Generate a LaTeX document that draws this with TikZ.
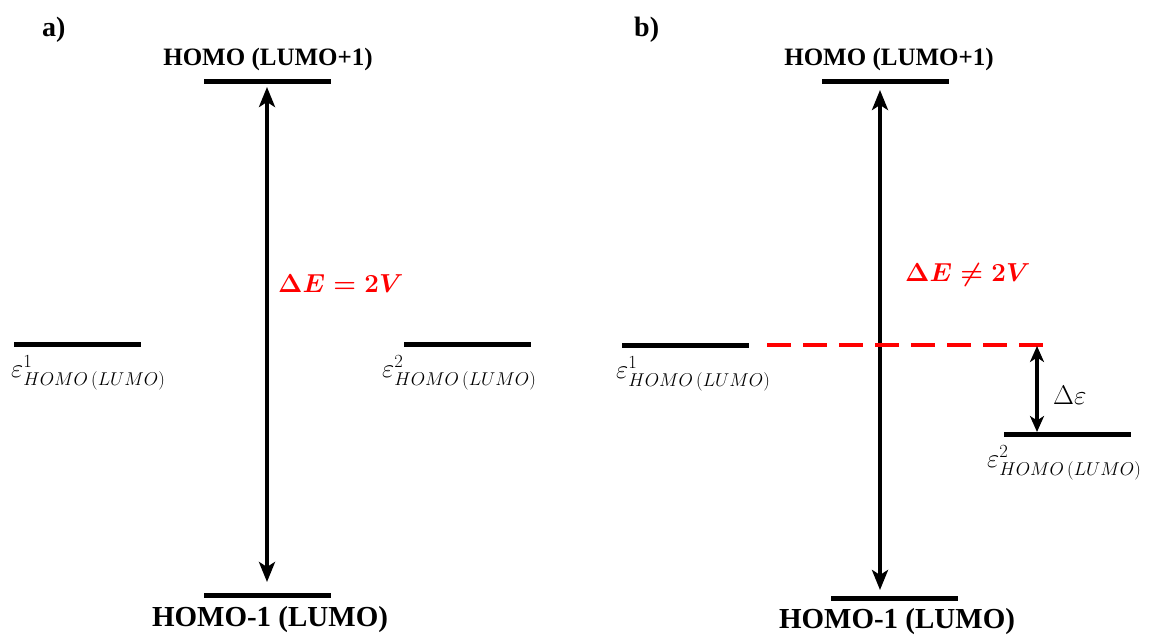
\RequirePackage{fix-cm}
\documentclass[tikz,border=0pt]{standalone}
\usepackage{amsmath,amssymb}
\usepackage{fontspec}
\setmainfont{Liberation Serif}
\usetikzlibrary{arrows.meta}
\tikzset{
  bigtip/.tip={Stealth[length=20pt,width=16pt,inset=5pt]},
  smalltip/.tip={Stealth[length=16pt,width=14pt,inset=4.5pt]}
}
\begin{document}
\begin{tikzpicture}[x=1pt,y=-1pt,
  lvl/.style={fill=black,inner sep=0pt,minimum width=127pt,minimum height=5pt,draw=none},
  dbl/.style={line width=4pt,arrows={bigtip-bigtip}},
  sdbl/.style={line width=3.4pt,arrows={smalltip-smalltip}},
  toplab/.style={font=\fontsize{25}{30}\selectfont\bfseries,inner sep=0pt,anchor=base},
  botlab/.style={font=\fontsize{29}{34}\selectfont\bfseries,inner sep=0pt,anchor=base},
  panel/.style={font=\fontsize{28}{32}\selectfont\bfseries,inner sep=0pt,anchor=base west},
  eps/.style={font=\fontsize{26.5}{32}\selectfont,inner sep=0pt,anchor=base west},
  dlab/.style={font=\fontsize{27}{30}\selectfont,inner sep=0pt,anchor=base west},
  rlab/.style={font=\fontsize{26}{30}\selectfont,text=red,inner sep=0pt,anchor=base west}]
\useasboundingbox (0,0) rectangle (1151,637);
% panel labels
\node[panel] (pa) at (42,36) {a)};
\node[panel] (pb) at (634,36) {b)};
% ---------- panel a ----------
\node[toplab] (aTopL) at (268,65) {HOMO (LUMO+1)};
\node[lvl] (aTop) at (267,81) {};
\node[lvl] (aBot) at (267,595) {};
\node[botlab] (aBotL) at (270,626) {HOMO-1 (LUMO)};
\node[lvl] (aL) at (77,344) {};
\node[lvl] (aR) at (467,344) {};
\node[eps] (aLL) at (11,377) {$\varepsilon^{1}_{HOMO\,(LUMO)}$};
\node[eps] (aRL) at (382,377) {$\varepsilon^{2}_{HOMO\,(LUMO)}$};
\coordinate (aA1) at (267,87);
\coordinate (aA2) at (267,582);
\draw[dbl] (aA1) -- (aA2);
\node[rlab] (aDE) at (278,292) {$\boldsymbol{\Delta E = 2V}$};
% ---------- panel b ----------
\node[toplab] (bTopL) at (889,65) {HOMO (LUMO+1)};
\node[lvl] (bTop) at (885,81) {};
\node[lvl] (bBot) at (894,598) {};
\node[botlab] (bBotL) at (897,628) {HOMO-1 (LUMO)};
\node[lvl] (bL) at (685,345) {};
\node[lvl] (bR) at (1067,434) {};
\node[eps] (bLL) at (616,378) {$\varepsilon^{1}_{HOMO\,(LUMO)}$};
\node[eps] (bRL) at (987,467) {$\varepsilon^{2}_{HOMO\,(LUMO)}$};
\coordinate (bA1) at (880,90);
\coordinate (bA2) at (880,590);
\draw[dbl] (bA1) -- (bA2);
\node[rlab] (bDE) at (905,281) {$\boldsymbol{\Delta E \neq 2V}$};
\coordinate (dS) at (767,345);
\coordinate (dE) at (1050,345);
\draw[red,line width=3.5pt,dash pattern=on 24pt off 12pt] (dS) -- (dE);
\coordinate (eA1) at (1037,346);
\coordinate (eA2) at (1037,432);
\draw[sdbl] (eA1) -- (eA2);
\node[dlab] (deps) at (1053,404) {$\Delta\varepsilon$};
\end{tikzpicture}
\end{document}
